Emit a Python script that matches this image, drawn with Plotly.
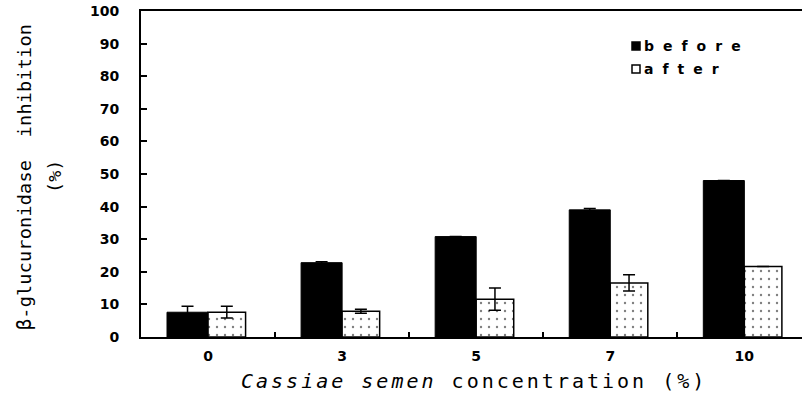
import plotly.graph_objects as go

# Cassiae semen concentration (%) categories
concentrations = ["0", "3", "5", "7", "10"]
# beta-glucuronidase inhibition (%) before and after treatment
before = [7.6, 22.8, 30.8, 39.0, 48.0]
after = [7.6, 7.9, 11.6, 16.6, 21.6]
before_err = [1.8, 0.3, 0.0, 0.4, 0.0]
after_err = [1.8, 0.6, 3.4, 2.5, 0.0]

xpos = list(range(len(concentrations)))

fig = go.Figure()
fig.add_trace(go.Bar(
    x=xpos, y=before, name="before",
    offset=-0.306, width=0.306,
    marker=dict(color="black", line=dict(color="black", width=1)),
    error_y=dict(type="data", array=before_err, color="black",
                 thickness=1.5, width=6),
    showlegend=False,
))
fig.add_trace(go.Bar(
    x=xpos, y=after, name="after",
    offset=0.0, width=0.28,
    marker=dict(color="white", line=dict(color="black", width=1.5),
                pattern=dict(shape=".", fgcolor="black", bgcolor="white",
                             size=8, solidity=0.07)),
    error_y=dict(type="data", array=after_err, color="black",
                 thickness=1.5, width=6),
    showlegend=False,
))

tick_font = dict(family="DejaVu Sans", size=14, color="black", weight="bold")

fig.update_layout(
    width=802, height=398,
    margin=dict(l=141, r=0, t=11, b=61),
    paper_bgcolor="white", plot_bgcolor="white",
    barmode="overlay",
    xaxis=dict(
        range=[-0.5, 4.43],
        tickvals=xpos, ticktext=concentrations,
        ticks="", tickfont=tick_font, ticklabelstandoff=5,
        showline=True, linecolor="black", linewidth=2, mirror=True,
        showgrid=False, zeroline=False,
        minor=dict(tickvals=[0.5, 1.5, 2.5, 3.5], ticks="inside",
                   ticklen=5, tickwidth=1.5, tickcolor="black",
                   showgrid=False),
    ),
    yaxis=dict(
        range=[0, 100], tickvals=list(range(0, 101, 10)),
        ticks="inside", ticklen=6, tickwidth=1.5, tickcolor="black",
        tickfont=tick_font, ticklabelstandoff=17,
        showline=True, linecolor="black", linewidth=2,
        showgrid=False, zeroline=False,
    ),
)

mono = "DejaVu Sans Mono"

# axis titles
fig.add_annotation(
    text='<span style="letter-spacing:0.2px">β-glucuronidase\u00a0 inhibition</span>',
    xref="paper", yref="paper", x=(25 - 141) / 661, y=(337 - 177) / 326,
    xanchor="center", yanchor="middle", textangle=-90, showarrow=False,
    font=dict(family=mono, size=18.5, color="black"),
)
fig.add_annotation(
    text="(%)",
    xref="paper", yref="paper", x=(55 - 141) / 661, y=(337 - 177) / 326,
    xanchor="center", yanchor="middle", textangle=-90, showarrow=False,
    font=dict(family=mono, size=18.5, color="black"),
)
fig.add_annotation(
    text='<span style="letter-spacing:3px"><i>Cassiae semen</i> concentration (%)</span>',
    xref="paper", yref="paper", x=(474 - 141) / 661, y=(337 - 381) / 326,
    xanchor="center", yanchor="middle", showarrow=False,
    font=dict(family=mono, size=20, color="black"),
)

# legend keys
legend_items = [("before", "black", 46), ("after", "white", 69)]
for label, fill, yc in legend_items:
    fig.add_shape(
        type="rect", xref="paper", yref="paper",
        x0=(632 - 141) / 661, x1=(640 - 141) / 661,
        y0=(337 - (yc - 4)) / 326, y1=(337 - (yc + 4)) / 326,
        fillcolor=fill, line=dict(color="black", width=1.5),
    )
    fig.add_annotation(
        text=f'<span style="letter-spacing:9px">{label}</span>',
        xref="paper", yref="paper", x=(642 - 141) / 661, y=(337 - yc) / 326,
        xanchor="left", yanchor="middle", showarrow=False,
        font=dict(family="DejaVu Sans", size=14, color="black", weight="bold"),
    )

fig.write_html("out.html")
